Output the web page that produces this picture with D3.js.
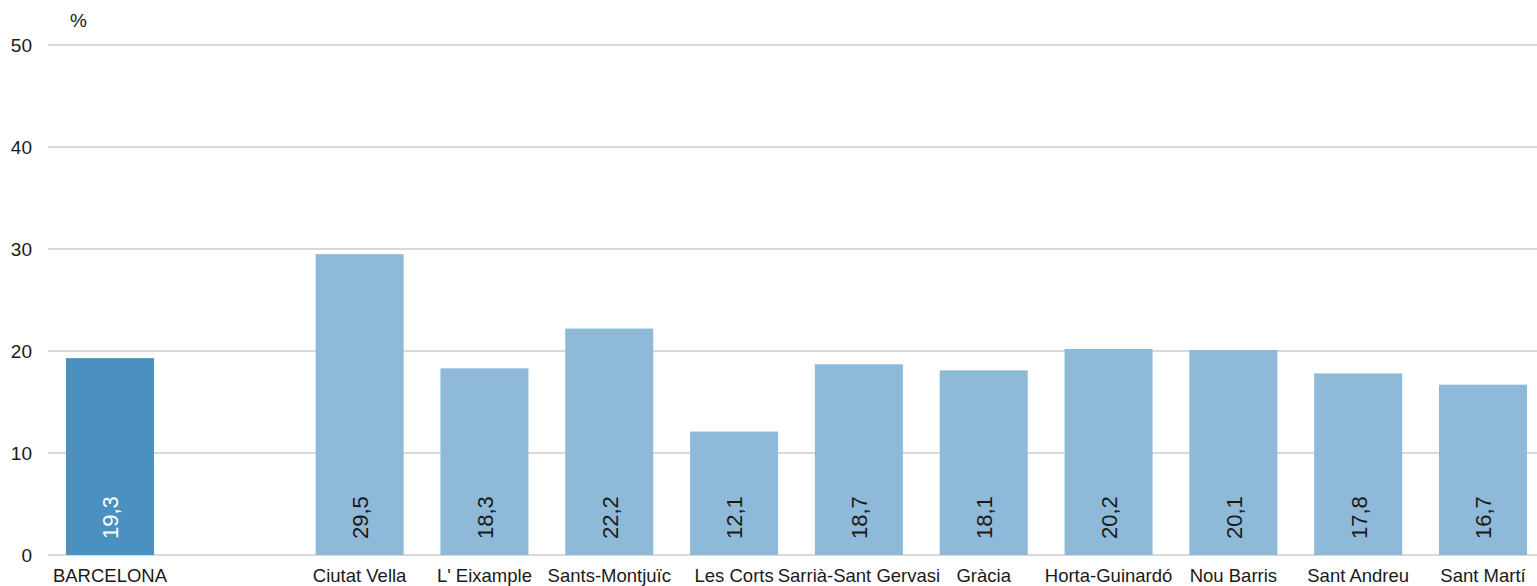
<!DOCTYPE html>
<html>
<head>
<meta charset="utf-8">
<script src="https://cdn.jsdelivr.net/npm/d3@7"></script>
<style>
  html, body { margin: 0; padding: 0; background: #ffffff; }
  svg { display: block; }
  text { font-family: "Liberation Sans", Arial, sans-serif; }
</style>
</head>
<body>
<svg id="chart" width="1537" height="586"></svg>
<script>
const categories = ["BARCELONA", "", "Ciutat Vella", "L' Eixample", "Sants-Montjuïc", "Les Corts", "Sarrià-Sant Gervasi", "Gràcia", "Horta-Guinardó", "Nou Barris", "Sant Andreu", "Sant Martí"];
const values = [19.3, null, 29.5, 18.3, 22.2, 12.1, 18.7, 18.1, 20.2, 20.1, 17.8, 16.7];
const valueLabels = ["19,3", "", "29,5", "18,3", "22,2", "12,1", "18,7", "18,1", "20,2", "20,1", "17,8", "16,7"];
const yTicks = [0, 10, 20, 30, 40, 50];
const unitLabel = "%";

const svg = d3.select("#chart");
const gridLeft = 48, gridRight = 1537;
const y0 = 555, y50 = 45;
const labelFont = "18.5px";
const valueFont = "22px";

const x = d3.scaleBand()
  .domain(d3.range(categories.length))
  .range([48, 1545])
  .paddingInner(0.295)
  .paddingOuter(0.144);

const y = d3.scaleLinear().domain([0, 50]).range([y0, y50]);

// gridlines
svg.append("g").selectAll("line").data(yTicks).join("line")
  .attr("x1", gridLeft).attr("x2", gridRight)
  .attr("y1", d => y(d)).attr("y2", d => y(d))
  .attr("stroke", "#d9d9d9").attr("stroke-width", 2);

// y axis labels
const yAxis = d3.axisLeft(y).tickValues(yTicks).tickSize(0).tickPadding(0).tickFormat(d3.format("d"));
const gy = svg.append("g").attr("transform", "translate(32,0)").call(yAxis);
gy.select(".domain").remove();
gy.selectAll("text").attr("font-size", "19px").attr("fill", "#1a1a1a")
  .attr("font-family", "'Liberation Sans', Arial, sans-serif");

svg.append("text").attr("x", 70).attr("y", 27).attr("font-size", "19px").attr("fill", "#1a1a1a").text(unitLabel);

// bars
const data = categories.map((c, i) => ({c, i, v: values[i], lab: valueLabels[i]})).filter(d => d.v !== null);
svg.append("g").selectAll("rect").data(data).join("rect")
  .attr("x", d => x(d.i)).attr("width", x.bandwidth())
  .attr("y", d => y(d.v)).attr("height", d => y(0) - y(d.v))
  .attr("fill", d => d.i === 0 ? "#4a91c2" : "#8fb9d9");

// value labels, rotated
svg.append("g").selectAll("text").data(data).join("text")
  .attr("transform", d => `translate(${x(d.i) + x.bandwidth() / 2 + 8.3},${y(0) - 16}) rotate(-90)`)
  .attr("text-anchor", "start")
  .attr("font-size", valueFont)
  .attr("fill", d => d.i === 0 ? "#ffffff" : "#1a1a1a")
  .text(d => d.lab);

// category labels
const xAxis = d3.axisBottom(x).tickSize(0).tickPadding(0).tickFormat(i => categories[i]);
const gx = svg.append("g").attr("transform", `translate(0,${y0})`).call(xAxis);
gx.select(".domain").remove();
gx.selectAll("text").attr("font-size", labelFont).attr("fill", "#1a1a1a")
  .attr("font-family", "'Liberation Sans', Arial, sans-serif")
  .attr("dy", null).attr("y", 26.8);
</script>
</body>
</html>
